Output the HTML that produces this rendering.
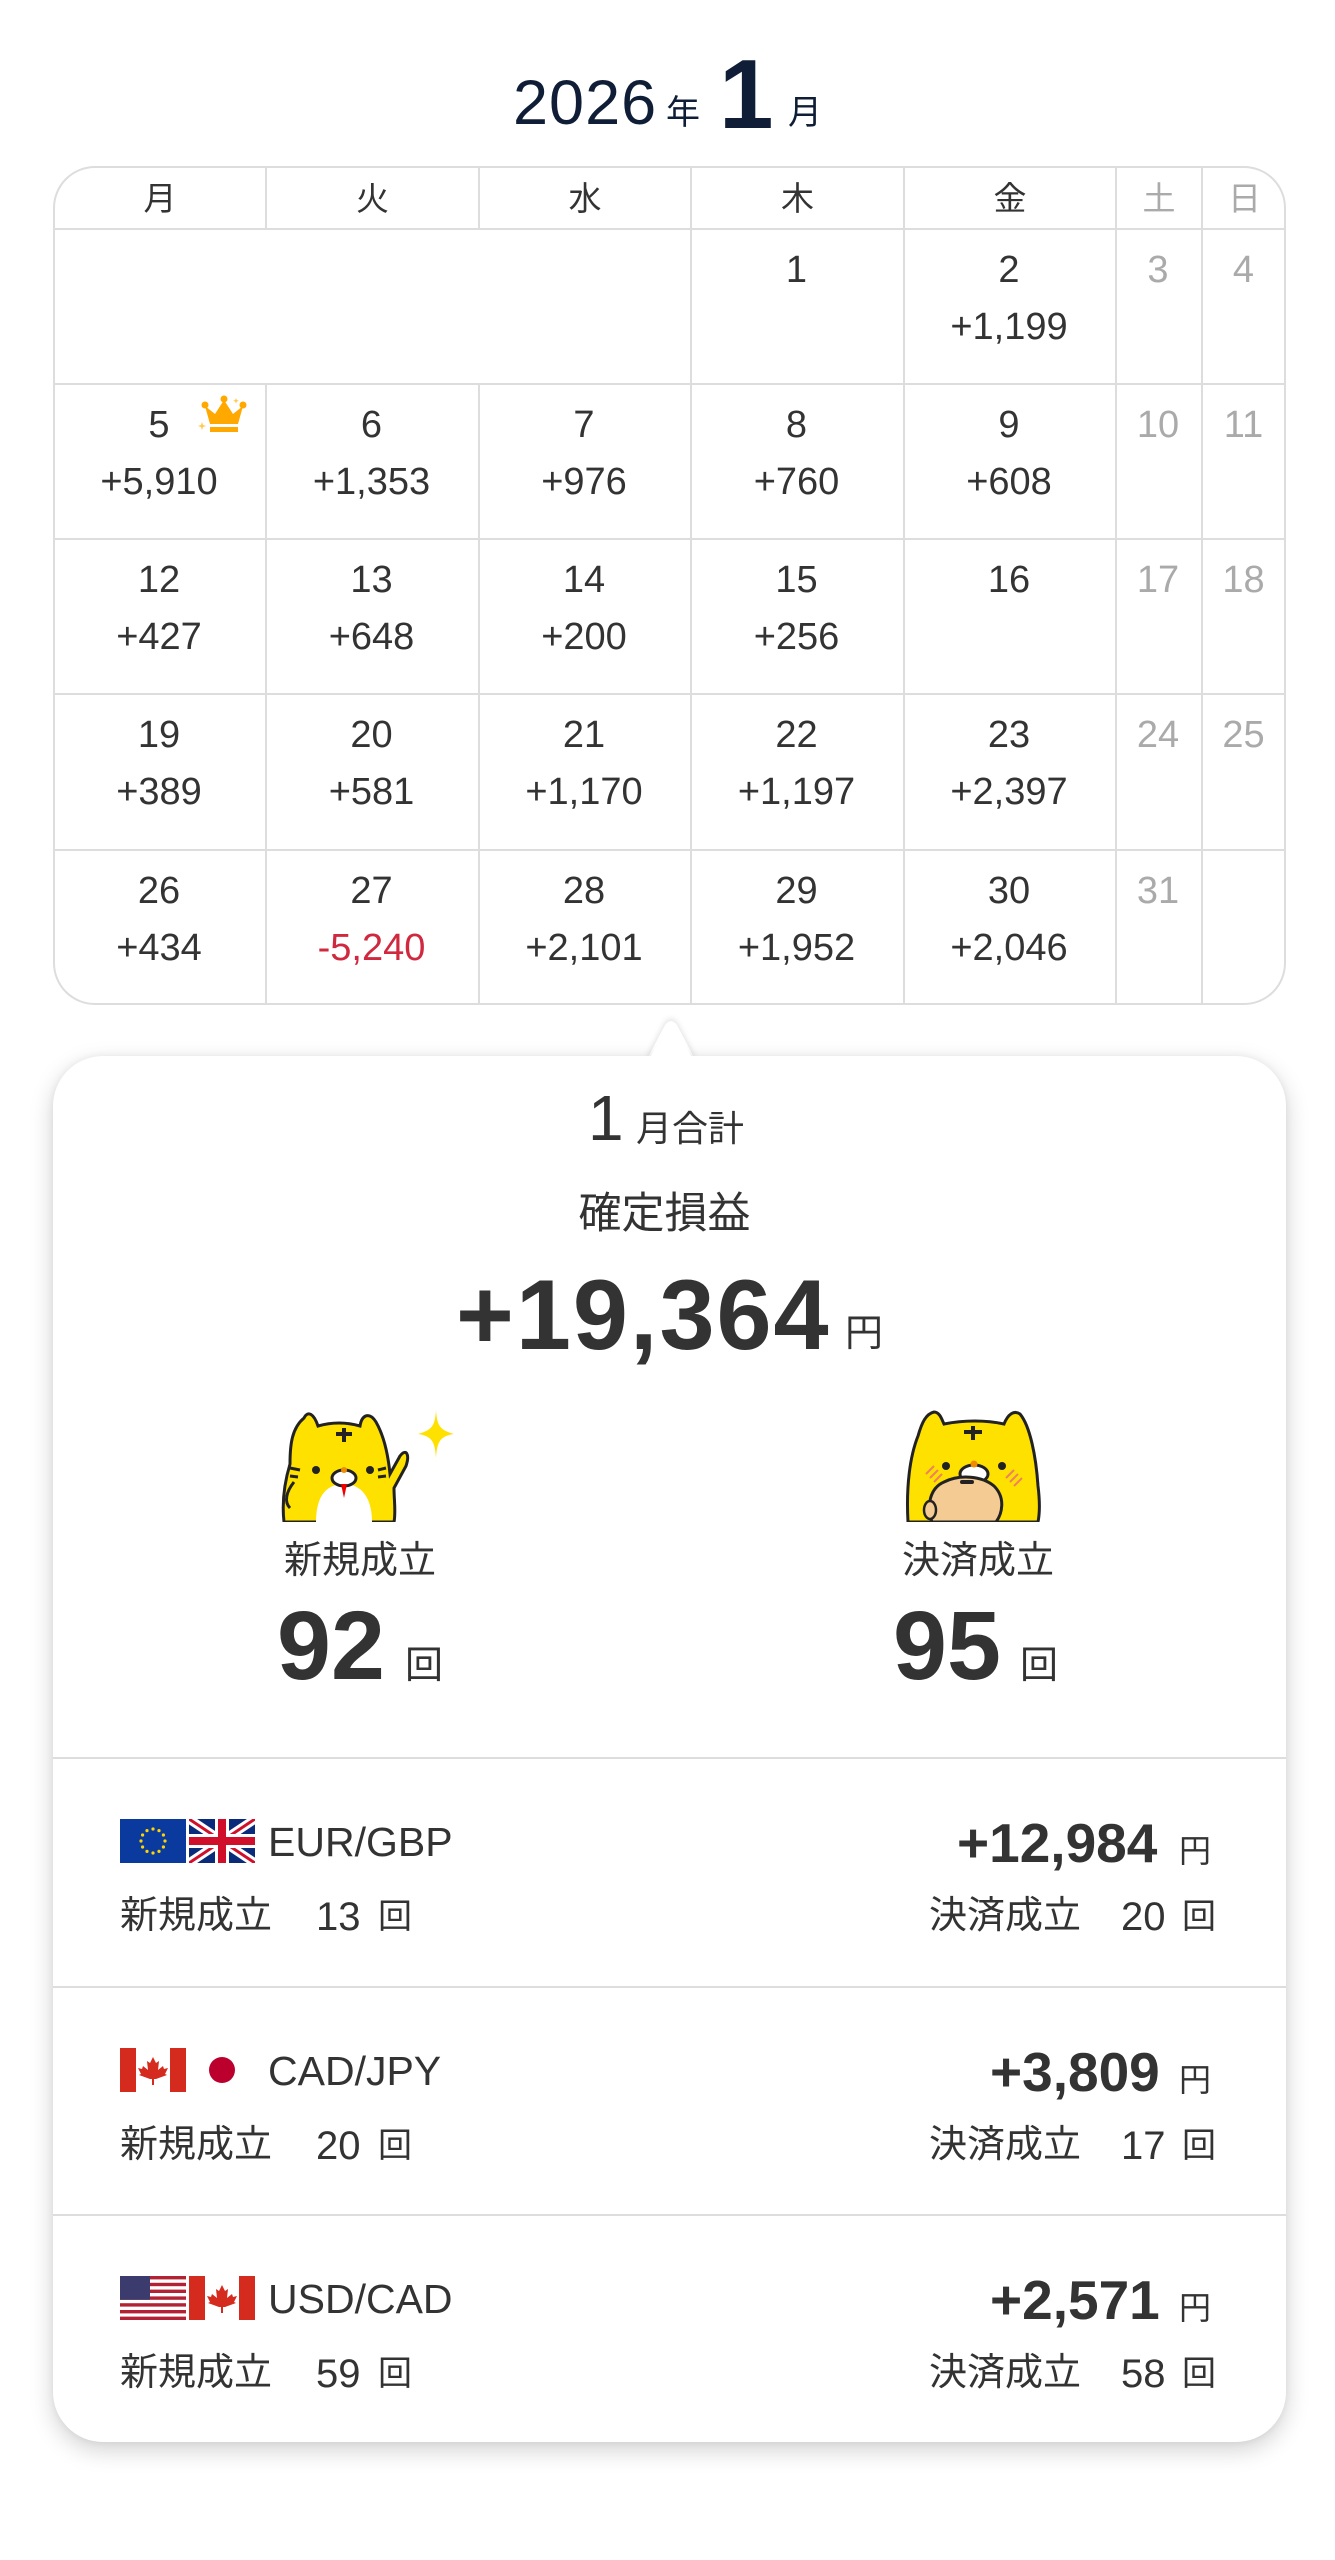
<!DOCTYPE html>
<html><head><meta charset="utf-8">
<style>
html,body{margin:0;padding:0;background:#fff;}
body{width:1335px;height:2560px;position:relative;overflow:hidden;font-family:"Liberation Sans","Noto Sans CJK JP",sans-serif;color:#333;}
.a{position:absolute;white-space:nowrap;line-height:1;}
.cal{position:absolute;left:53px;top:166px;width:1229px;height:835px;border:2px solid #ddd;border-radius:42px;overflow:hidden;}
.hl{position:absolute;background:#ddd;}
.cell{position:absolute;text-align:center;}
.n{position:absolute;left:0;right:0;top:23px;font-size:38px;line-height:1;}
.v{position:absolute;left:0;right:0;top:80px;font-size:38px;line-height:1;}
.g{color:#aaa;}
.hd{position:absolute;top:0;height:62px;line-height:62px;font-size:33px;text-align:center;}
.card{position:absolute;left:53px;top:1056px;width:1233px;height:1386px;background:#fff;border-radius:50px;box-shadow:0 8px 24px rgba(0,0,0,.18),0 0 8px rgba(0,0,0,.06);}
</style></head><body>

<div class="a" style="left:513px;top:72px;font-size:63px;color:#0f1e36;letter-spacing:1px;">2026</div>
<div class="a" style="left:666px;top:96px;font-size:34px;color:#0f1e36;">年</div>
<div class="a" style="left:719px;top:45px;font-size:98px;font-weight:bold;color:#0f1e36;">1</div>
<div class="a" style="left:788px;top:96px;font-size:34px;color:#0f1e36;">月</div>

<div class="cal">
  <div class="hl" style="left:210px;top:0;width:2px;height:835px"></div>
  <div class="hl" style="left:423px;top:0;width:2px;height:835px"></div>
  <div class="hl" style="left:635px;top:0;width:2px;height:835px"></div>
  <div class="hl" style="left:848px;top:0;width:2px;height:835px"></div>
  <div class="hl" style="left:1060px;top:0;width:2px;height:835px"></div>
  <div class="hl" style="left:1146px;top:0;width:2px;height:835px"></div>
  <div class="hl" style="left:0;top:60px;width:1231px;height:2px"></div>
  <div class="hl" style="left:0;top:215px;width:1231px;height:2px"></div>
  <div class="hl" style="left:0;top:370px;width:1231px;height:2px"></div>
  <div class="hl" style="left:0;top:525px;width:1231px;height:2px"></div>
  <div class="hl" style="left:0;top:681px;width:1231px;height:2px"></div>
  <div style="position:absolute;left:0;top:62px;width:635px;height:153px;background:#fff"></div>

  <div class="hd" style="left:0;width:210px">月</div>
  <div class="hd" style="left:212px;width:211px">火</div>
  <div class="hd" style="left:425px;width:210px">水</div>
  <div class="hd" style="left:637px;width:211px">木</div>
  <div class="hd" style="left:850px;width:210px">金</div>
  <div class="hd g" style="left:1062px;width:84px">土</div>
  <div class="hd g" style="left:1148px;width:83px">日</div>
</div>

<svg class="a" style="left:198px;top:394px" width="52" height="42" viewBox="0 0 52 42">
  <path d="M12 30 L7 12 L17 20 L26 6 L35 20 L45 12 L40 30 Z" fill="#ffa800"/>
  <circle cx="7" cy="11" r="3.5" fill="#ffa800"/><circle cx="26" cy="5" r="3.5" fill="#ffa800"/><circle cx="45" cy="11" r="3.5" fill="#ffa800"/>
  <rect x="12" y="33" width="28" height="5" fill="#ffa800"/>
  <path d="M4 28 l1 3 3 1 -3 1 -1 3 -1 -3 -3 -1 3 -1z" fill="#ffc94d"/>
  <path d="M38 4 l.8 2 2 .8 -2 .8 -.8 2 -.8 -2 -2 -.8 2 -.8z" fill="#ffc94d"/>
</svg>

<svg class="a" style="left:645px;top:1019px;filter:drop-shadow(0 -2px 3px rgba(0,0,0,.12))" width="52" height="42"><path d="M2 40 L20 6 Q26 -2 32 6 L50 40 Z" fill="#fff"/></svg>
<div class="card"></div>
<svg class="a" style="left:645px;top:1021px" width="52" height="40"><path d="M4 39 L21 5 Q26 -2 31 5 L48 39 Z" fill="#fff"/></svg>

<div class="a" style="left:588px;top:1086px;font-size:64px;">1</div>
<div class="a" style="left:636px;top:1111px;font-size:36px;">月合計</div>
<div class="a" style="left:0;width:1335px;text-align:center;top:1193px;font-size:43px;"><span style="margin-left:-6px">確定損益</span></div>
<div class="a" style="left:456px;top:1265px;font-size:99px;font-weight:bold;letter-spacing:2px;">+19,364</div>
<div class="a" style="left:845px;top:1315px;font-size:38px;">円</div>

<svg class="a" style="left:276px;top:1404px" width="180" height="118" viewBox="0 0 180 118">
  <path d="M8 118 C6 100 8 80 14 60 C14 40 16 24 28 14 C32 6 38 10 42 22 C56 18 70 18 84 22 C86 10 94 8 100 18 C108 32 112 50 114 70 L124 52 C130 44 134 50 130 62 L118 84 C118 96 120 108 118 118 Z" fill="#ffe100" stroke="#222" stroke-width="3"/>
  <path d="M40 118 C40 90 52 80 68 80 C84 80 96 92 96 118 Z" fill="#fff"/>
  <path d="M18 78 C10 88 8 98 14 104" fill="none" stroke="#222" stroke-width="3"/>
  <rect x="60" y="28" width="16" height="4" fill="#222"/><rect x="66" y="24" width="4" height="14" fill="#222"/>
  <circle cx="40" cy="66" r="4" fill="#222"/><circle cx="94" cy="66" r="4" fill="#222"/>
  <ellipse cx="68" cy="74" rx="12" ry="8" fill="#fff" stroke="#222" stroke-width="3"/>
  <circle cx="68" cy="66" r="3" fill="#f08a00"/>
  <path d="M65 80 L68 94 L71 80 Z" fill="#e00"/>
  <path d="M14 64 l10 2 M14 72 l8 1 M110 64 l-8 2 M110 72 l-8 1" stroke="#222" stroke-width="3"/>
  <path d="M160 6 C161 22 164 26 178 30 C164 32 161 38 160 54 C159 38 156 32 142 30 C156 26 159 22 160 6 Z" fill="#ffe100"/>
</svg>

<svg class="a" style="left:904px;top:1406px" width="146" height="116" viewBox="0 0 146 116">
  <path d="M4 116 C2 80 6 50 14 30 C18 16 22 8 30 6 C36 6 38 14 40 18 C60 14 82 14 100 18 C104 8 110 4 116 8 C126 20 132 50 134 80 C136 96 136 106 134 116 Z" fill="#ffe100" stroke="#222" stroke-width="3"/>
  <rect x="60" y="24" width="18" height="4" fill="#222"/><rect x="67" y="20" width="4" height="14" fill="#222"/>
  <circle cx="42" cy="60" r="4" fill="#222"/><circle cx="98" cy="60" r="4" fill="#222"/>
  <ellipse cx="70" cy="68" rx="14" ry="9" fill="#fff" stroke="#222" stroke-width="3"/>
  <circle cx="70" cy="58" r="3.5" fill="#f08a00"/>
  <path d="M22 68 l8 -8 M26 72 l8 -8 M30 76 l8 -8 M102 72 l8 -8 M106 76 l8 -8 M110 80 l8 -8" stroke="#f08060" stroke-width="2"/>
  <path d="M28 116 C22 100 26 82 40 76 C56 68 78 70 90 80 C102 92 98 108 92 116 Z" fill="#f4cb92" stroke="#222" stroke-width="3"/>
  <rect x="56" y="74" width="14" height="4" rx="2" fill="#222"/>
  <ellipse cx="26" cy="104" rx="6" ry="9" fill="#f4cb92" stroke="#222" stroke-width="2.5"/>
</svg>

<div class="a" style="left:284px;top:1542px;font-size:38px;">新規成立</div>
<div class="a" style="left:902px;top:1542px;font-size:38px;">決済成立</div>
<div class="a" style="left:277px;top:1597px;font-size:97px;font-weight:bold;">92</div>
<div class="a" style="left:405px;top:1647px;font-size:38px;">回</div>
<div class="a" style="left:893px;top:1597px;font-size:97px;font-weight:bold;">95</div>
<div class="a" style="left:1020px;top:1647px;font-size:38px;">回</div>

<div class="a" style="left:53px;top:1757px;width:1233px;height:2px;background:#ddd"></div>
<div class="a" style="left:53px;top:1986px;width:1233px;height:2px;background:#ddd"></div>
<div class="a" style="left:53px;top:2214px;width:1233px;height:2px;background:#ddd"></div>

<svg width="0" height="0" style="position:absolute">
 <defs>
  <symbol id="ca" viewBox="0 0 66 44">
   <rect width="66" height="44" fill="#fff"/><rect width="16" height="44" fill="#d52b1e"/><rect x="50" width="16" height="44" fill="#d52b1e"/>
   <path d="M33 9 L36 15 L39 13 L38 22 L43 18 L44 21 L48 20 L45 26 L47 27 L36 31 L34 31 L34 37 L32 37 L32 31 L30 31 L19 27 L21 26 L18 20 L22 21 L23 18 L28 22 L27 13 L30 15 Z" fill="#d52b1e"/>
  </symbol>
 </defs>
</svg>

<svg class="a" style="left:120px;top:1819px" width="66" height="44" viewBox="0 0 66 44">
 <rect width="66" height="44" fill="#0b3a9e"/>
 <g fill="#ffd500">
  <circle cx="33" cy="10" r="1.6"/><circle cx="39" cy="11.6" r="1.6"/><circle cx="43.4" cy="16" r="1.6"/><circle cx="45" cy="22" r="1.6"/><circle cx="43.4" cy="28" r="1.6"/><circle cx="39" cy="32.4" r="1.6"/><circle cx="33" cy="34" r="1.6"/><circle cx="27" cy="32.4" r="1.6"/><circle cx="22.6" cy="28" r="1.6"/><circle cx="21" cy="22" r="1.6"/><circle cx="22.6" cy="16" r="1.6"/><circle cx="27" cy="11.6" r="1.6"/>
 </g>
</svg>
<svg class="a" style="left:189px;top:1819px" width="66" height="44" viewBox="0 0 66 44">
 <rect width="66" height="44" fill="#0a2a7a"/>
 <path d="M0 0 L66 44 M66 0 L0 44" stroke="#fff" stroke-width="9"/>
 <path d="M0 0 L66 44 M66 0 L0 44" stroke="#d0102a" stroke-width="3"/>
 <path d="M33 0 V44 M0 22 H66" stroke="#fff" stroke-width="14"/>
 <path d="M33 0 V44 M0 22 H66" stroke="#d0102a" stroke-width="8"/>
</svg>
<div class="a" style="left:268px;top:1822px;font-size:41px;">EUR/GBP</div>
<div class="a" style="left:957px;top:1816px;font-size:55px;font-weight:bold;">+12,984</div>
<div class="a" style="left:1179px;top:1835px;font-size:32px;">円</div>
<div class="a" style="left:120px;top:1897px;font-size:38px;">新規成立</div>
<div class="a" style="left:316px;top:1897px;font-size:40px;">13</div>
<div class="a" style="left:378px;top:1900px;font-size:34px;">回</div>
<div class="a" style="left:929px;top:1897px;font-size:38px;">決済成立</div>
<div class="a" style="left:1121px;top:1897px;font-size:40px;">20</div>
<div class="a" style="left:1182px;top:1900px;font-size:34px;">回</div>

<svg class="a" style="left:120px;top:2048px" width="66" height="44"><use href="#ca"/></svg>
<svg class="a" style="left:189px;top:2048px" width="66" height="44"><rect width="66" height="44" fill="#fff"/><circle cx="33" cy="22" r="13" fill="#bc002d"/></svg>
<div class="a" style="left:268px;top:2051px;font-size:41px;">CAD/JPY</div>
<div class="a" style="left:990px;top:2045px;font-size:55px;font-weight:bold;">+3,809</div>
<div class="a" style="left:1179px;top:2064px;font-size:32px;">円</div>
<div class="a" style="left:120px;top:2126px;font-size:38px;">新規成立</div>
<div class="a" style="left:316px;top:2126px;font-size:40px;">20</div>
<div class="a" style="left:378px;top:2129px;font-size:34px;">回</div>
<div class="a" style="left:929px;top:2126px;font-size:38px;">決済成立</div>
<div class="a" style="left:1121px;top:2126px;font-size:40px;">17</div>
<div class="a" style="left:1182px;top:2129px;font-size:34px;">回</div>

<svg class="a" style="left:120px;top:2276px" width="66" height="44" viewBox="0 0 66 44">
 <rect width="66" height="44" fill="#fff"/>
 <g fill="#b22234"><rect y="0" width="66" height="3.4"/><rect y="6.8" width="66" height="3.4"/><rect y="13.6" width="66" height="3.4"/><rect y="20.4" width="66" height="3.4"/><rect y="27.2" width="66" height="3.4"/><rect y="34" width="66" height="3.4"/><rect y="40.6" width="66" height="3.4"/></g>
 <rect width="30" height="23.8" fill="#3c3b6e"/>
</svg>
<svg class="a" style="left:189px;top:2276px" width="66" height="44"><use href="#ca"/></svg>
<div class="a" style="left:268px;top:2279px;font-size:41px;">USD/CAD</div>
<div class="a" style="left:990px;top:2273px;font-size:55px;font-weight:bold;">+2,571</div>
<div class="a" style="left:1179px;top:2292px;font-size:32px;">円</div>
<div class="a" style="left:120px;top:2354px;font-size:38px;">新規成立</div>
<div class="a" style="left:316px;top:2354px;font-size:40px;">59</div>
<div class="a" style="left:378px;top:2357px;font-size:34px;">回</div>
<div class="a" style="left:929px;top:2354px;font-size:38px;">決済成立</div>
<div class="a" style="left:1121px;top:2354px;font-size:40px;">58</div>
<div class="a" style="left:1182px;top:2357px;font-size:34px;">回</div>

<div class="cell" style="left:690px;top:228px;width:213px;height:155px"><div class="n">1</div></div>
<div class="cell" style="left:903px;top:228px;width:212px;height:155px"><div class="n">2</div><div class="v">+1,199</div></div>
<div class="cell g" style="left:1115px;top:228px;width:86px;height:155px"><div class="n">3</div></div>
<div class="cell g" style="left:1201px;top:228px;width:85px;height:155px"><div class="n">4</div></div>

<div class="cell" style="left:53px;top:383px;width:212px;height:155px"><div class="n">5</div><div class="v">+5,910</div></div>
<div class="cell" style="left:265px;top:383px;width:213px;height:155px"><div class="n">6</div><div class="v">+1,353</div></div>
<div class="cell" style="left:478px;top:383px;width:212px;height:155px"><div class="n">7</div><div class="v">+976</div></div>
<div class="cell" style="left:690px;top:383px;width:213px;height:155px"><div class="n">8</div><div class="v">+760</div></div>
<div class="cell" style="left:903px;top:383px;width:212px;height:155px"><div class="n">9</div><div class="v">+608</div></div>
<div class="cell g" style="left:1115px;top:383px;width:86px;height:155px"><div class="n">10</div></div>
<div class="cell g" style="left:1201px;top:383px;width:85px;height:155px"><div class="n">11</div></div>

<div class="cell" style="left:53px;top:538px;width:212px;height:155px"><div class="n">12</div><div class="v">+427</div></div>
<div class="cell" style="left:265px;top:538px;width:213px;height:155px"><div class="n">13</div><div class="v">+648</div></div>
<div class="cell" style="left:478px;top:538px;width:212px;height:155px"><div class="n">14</div><div class="v">+200</div></div>
<div class="cell" style="left:690px;top:538px;width:213px;height:155px"><div class="n">15</div><div class="v">+256</div></div>
<div class="cell" style="left:903px;top:538px;width:212px;height:155px"><div class="n">16</div></div>
<div class="cell g" style="left:1115px;top:538px;width:86px;height:155px"><div class="n">17</div></div>
<div class="cell g" style="left:1201px;top:538px;width:85px;height:155px"><div class="n">18</div></div>

<div class="cell" style="left:53px;top:693px;width:212px;height:155px"><div class="n">19</div><div class="v">+389</div></div>
<div class="cell" style="left:265px;top:693px;width:213px;height:155px"><div class="n">20</div><div class="v">+581</div></div>
<div class="cell" style="left:478px;top:693px;width:212px;height:155px"><div class="n">21</div><div class="v">+1,170</div></div>
<div class="cell" style="left:690px;top:693px;width:213px;height:155px"><div class="n">22</div><div class="v">+1,197</div></div>
<div class="cell" style="left:903px;top:693px;width:212px;height:155px"><div class="n">23</div><div class="v">+2,397</div></div>
<div class="cell g" style="left:1115px;top:693px;width:86px;height:155px"><div class="n">24</div></div>
<div class="cell g" style="left:1201px;top:693px;width:85px;height:155px"><div class="n">25</div></div>

<div class="cell" style="left:53px;top:849px;width:212px;height:155px"><div class="n">26</div><div class="v">+434</div></div>
<div class="cell" style="left:265px;top:849px;width:213px;height:155px"><div class="n">27</div><div class="v" style="color:#d0283e">-5,240</div></div>
<div class="cell" style="left:478px;top:849px;width:212px;height:155px"><div class="n">28</div><div class="v">+2,101</div></div>
<div class="cell" style="left:690px;top:849px;width:213px;height:155px"><div class="n">29</div><div class="v">+1,952</div></div>
<div class="cell" style="left:903px;top:849px;width:212px;height:155px"><div class="n">30</div><div class="v">+2,046</div></div>
<div class="cell g" style="left:1115px;top:849px;width:86px;height:155px"><div class="n">31</div></div>

</body></html>
